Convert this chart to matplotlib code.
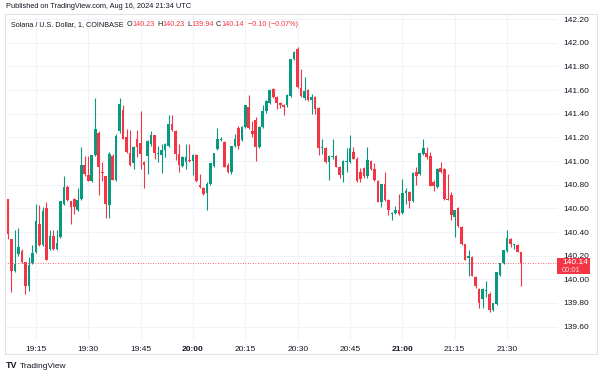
import numpy as np
import matplotlib.pyplot as plt
from matplotlib.patches import Rectangle

# SOL/USD 1-minute candles, 19:07 -> 21:34 (UTC)
opens = [140.68, 140.34, 140.07, 140.21, 140.24, 140.15, 139.94, 140.14, 140.23, 140.47,
         140.29, 140.60, 140.26, 140.37, 140.26, 140.36, 140.64, 140.78, 140.66, 140.68,
         140.59, 140.68, 140.97, 140.88, 140.83, 141.05, 141.24, 140.91, 140.87, 140.63,
         141.04, 140.84, 141.25, 141.43, 141.20, 141.07, 140.98, 141.19, 141.15, 140.99,
         141.04, 141.14, 141.22, 141.06, 141.05, 141.09, 141.13, 141.31, 141.25, 141.06,
         140.96, 140.99, 141.01, 141.00, 141.05, 140.80, 140.77, 140.73, 140.81, 140.96,
         141.10, 141.18, 141.16, 140.97, 140.91, 141.13, 141.28, 141.18, 141.29, 141.46,
         141.25, 141.35, 141.12, 141.29, 141.42, 141.49, 141.61, 141.54, 141.49, 141.47,
         141.47, 141.55, 141.86, 141.95, 141.62, 141.53, 141.60, 141.52, 141.54, 141.45,
         141.11, 141.11, 140.99, 141.03, 141.04, 140.95, 140.88, 140.99, 140.99, 141.08,
         141.02, 140.91, 140.94, 140.87, 141.00, 140.93, 140.83, 140.65, 140.81, 140.67,
         140.55, 140.56, 140.59, 140.56, 140.73, 140.74, 140.66, 140.91, 140.89, 141.06,
         141.07, 141.04, 140.82, 140.78, 140.94, 140.93, 140.68, 140.71, 140.53, 140.60,
         140.44, 140.30, 140.18, 140.19, 140.02, 139.92, 139.83, 139.90, 139.88, 139.74,
         139.79, 140.04, 140.14, 140.24, 140.34, 140.29, 140.29, 140.23]
highs = [140.68, 140.34, 140.42, 140.43, 140.26, 140.15, 140.19, 140.29, 140.64, 140.63,
         140.61, 140.65, 140.42, 140.42, 140.42, 140.66, 140.87, 140.80, 140.66, 140.69,
         140.77, 141.12, 141.04, 141.04, 141.05, 141.53, 141.25, 140.99, 140.87, 141.08,
         141.06, 141.23, 141.53, 141.47, 141.27, 141.26, 141.13, 141.26, 141.42, 141.00,
         141.18, 141.25, 141.22, 141.13, 141.14, 141.15, 141.39, 141.39, 141.26, 141.14,
         141.04, 141.14, 141.14, 141.06, 141.06, 140.89, 140.78, 140.82, 140.98, 141.07,
         141.28, 141.20, 141.17, 140.98, 141.13, 141.23, 141.30, 141.30, 141.47, 141.56,
         141.34, 141.37, 141.30, 141.47, 141.52, 141.61, 141.62, 141.55, 141.50, 141.48,
         141.57, 141.86, 141.93, 141.96, 141.78, 141.71, 141.61, 141.57, 141.55, 141.46,
         141.19, 141.12, 141.05, 141.19, 141.05, 140.96, 141.01, 141.11, 141.22, 141.12,
         141.03, 140.94, 140.95, 141.12, 141.01, 140.98, 140.84, 140.81, 140.91, 140.68,
         140.57, 140.62, 140.72, 140.85, 140.77, 140.75, 140.91, 140.95, 141.07, 141.19,
         141.12, 141.08, 140.84, 140.94, 140.99, 140.94, 140.89, 140.74, 140.59, 140.61,
         140.45, 140.30, 140.25, 140.20, 140.03, 139.93, 139.93, 139.99, 139.89, 139.80,
         140.06, 140.14, 140.25, 140.42, 140.35, 140.30, 140.30, 140.23]
lows = [140.34, 139.89, 140.06, 140.20, 140.14, 139.88, 139.90, 140.13, 140.22, 140.28,
        140.28, 140.16, 140.25, 140.25, 140.25, 140.35, 140.63, 140.66, 140.47, 140.55,
        140.58, 140.67, 140.87, 140.83, 140.82, 141.04, 140.71, 140.83, 140.52, 140.52,
        140.84, 140.83, 141.24, 141.19, 141.07, 140.96, 140.93, 141.03, 140.93, 140.77,
        140.89, 141.13, 141.02, 140.99, 140.90, 141.03, 141.12, 141.25, 141.01, 140.91,
        140.95, 140.93, 140.99, 140.88, 140.82, 140.77, 140.71, 140.59, 140.80, 140.95,
        141.09, 141.17, 140.95, 140.90, 140.89, 141.12, 141.10, 141.17, 141.28, 141.27,
        141.20, 141.00, 141.11, 141.28, 141.41, 141.48, 141.53, 141.44, 141.45, 141.39,
        141.46, 141.54, 141.85, 141.62, 141.54, 141.52, 141.51, 141.40, 141.40, 141.05,
        141.06, 140.98, 140.84, 141.02, 140.95, 140.86, 140.82, 140.91, 140.98, 141.02,
        140.82, 140.82, 140.86, 140.86, 140.92, 140.83, 140.65, 140.61, 140.66, 140.54,
        140.50, 140.55, 140.54, 140.55, 140.64, 140.60, 140.65, 140.80, 140.88, 141.05,
        141.02, 140.79, 140.75, 140.77, 140.90, 140.67, 140.67, 140.50, 140.36, 140.44,
        140.29, 140.16, 140.03, 140.03, 139.93, 139.76, 139.76, 139.85, 139.72, 139.73,
        139.78, 140.03, 140.13, 140.23, 140.27, 140.26, 140.23, 139.94]
closes = [140.38, 140.07, 140.13, 140.27, 140.15, 139.94, 140.12, 140.22, 140.49, 140.29,
          140.58, 140.16, 140.37, 140.26, 140.31, 140.66, 140.78, 140.67, 140.61, 140.61,
          140.67, 140.97, 140.89, 140.83, 141.05, 141.27, 140.95, 140.90, 140.64, 141.06,
          140.84, 141.21, 141.48, 141.19, 141.08, 140.97, 141.12, 141.12, 141.06, 140.97,
          141.17, 141.22, 141.07, 141.06, 141.09, 141.14, 141.31, 141.26, 141.06, 140.97,
          141.03, 141.03, 141.00, 141.05, 140.83, 140.78, 140.72, 140.81, 140.98, 141.07,
          141.19, 141.19, 140.95, 140.91, 141.13, 141.19, 141.13, 141.29, 141.47, 141.28,
          141.23, 141.12, 141.29, 141.42, 141.51, 141.60, 141.54, 141.49, 141.47, 141.46,
          141.56, 141.86, 141.92, 141.63, 141.55, 141.59, 141.52, 141.54, 141.44, 141.11,
          141.12, 140.99, 141.04, 141.04, 140.95, 140.88, 141.00, 141.00, 141.11, 141.02,
          140.83, 140.85, 140.87, 141.01, 140.93, 140.84, 140.65, 140.81, 140.67, 140.59,
          140.56, 140.59, 140.55, 140.73, 140.75, 140.66, 140.90, 140.87, 141.07, 141.11,
          141.03, 140.79, 140.79, 140.93, 140.91, 140.68, 140.67, 140.54, 140.59, 140.45,
          140.30, 140.16, 140.20, 140.03, 139.94, 139.80, 139.92, 139.91, 139.74, 139.80,
          140.06, 140.14, 140.25, 140.35, 140.30, 140.29, 140.23, 140.14]

time_labels = ["19:15", "19:30", "19:45", "20:00", "20:15", "20:30", "20:45", "21:00", "21:15", "21:30"]
time_label_idx = [8, 23, 38, 53, 68, 83, 98, 113, 128, 143]
price_ticks = [139.60, 139.80, 140.00, 140.20, 140.40, 140.60, 140.80,
               141.00, 141.20, 141.40, 141.60, 141.80, 142.00, 142.20]
last_price = 140.14

UP = "#089981"
DOWN = "#F23645"
TXT = "#131722"
GRID = "#f0f3fa"

plt.rcParams['font.family'] = ['Liberation Sans', 'DejaVu Sans']

W, H = 600, 376
fig = plt.figure(figsize=(6, 3.76), dpi=100)
fig.patch.set_facecolor("white")

def fx(px):
    return px / W

def fy(py):
    return 1 - py / H

ax = fig.add_axes([fx(5), fy(340), fx(558) - fx(5), fy(14) - fy(340)])

o = np.array(opens)
hi = np.array(highs)
lo = np.array(lows)
c = np.array(closes)
idx = np.arange(len(o))
up = c >= o
col = np.where(up, UP, DOWN)

ax.vlines(idx, lo, hi, colors=col, linewidth=0.8, zorder=2)
body_lo = np.minimum(o, c)
body_h = np.maximum(np.abs(c - o), 0.006)
ax.bar(idx, body_h, bottom=body_lo, width=0.75, color=col, linewidth=0, zorder=3)

ax.axhline(last_price, color=DOWN, linewidth=0.6, linestyle=(0, (1, 2)), zorder=1)

ax.set_xlim(-0.86, 157.6)
ax.set_ylim(139.487, 142.243)

ax.set_xticks(time_label_idx)
ax.set_xticklabels(time_labels)
for lab in ax.get_xticklabels():
    lab.set_fontsize(6)
    lab.set_color(TXT)
    if lab.get_text().endswith(":00"):
        lab.set_fontweight("bold")
ax.tick_params(axis="x", length=0, pad=4.5)

ax.yaxis.tick_right()
ax.set_yticks(price_ticks)
ax.set_yticklabels([f"{p:.2f}" for p in price_ticks])
ax.tick_params(axis="y", length=0, pad=4, labelsize=6, labelcolor=TXT)
ax.grid(True, color=GRID, linewidth=0.8, zorder=0)
ax.set_axisbelow(True)
for s in ax.spines.values():
    s.set_visible(False)

# outer frame
fig.patches.append(Rectangle((fx(5), fy(354)), fx(597) - fx(5), fy(14) - fy(354),
                             transform=fig.transFigure, fill=False,
                             edgecolor="#e0e3eb", linewidth=0.8))

# last price tag
fig.patches.append(Rectangle((fx(557), fy(274)), fx(590) - fx(557), fy(258) - fy(274),
                             transform=fig.transFigure, facecolor=DOWN,
                             edgecolor="none", zorder=5))
fig.text(fx(562), fy(262.5), "140.14", color="white", fontsize=6, va="center", zorder=6)
fig.text(fx(562), fy(270), "00:01", color="#ffd6da", fontsize=5.5, va="center", zorder=6)

# header
fig.text(fx(6), fy(6.5), "Published on TradingView.com, Aug 16, 2024 21:34 UTC",
         fontsize=5.3, color=TXT, va="center")

renderer = fig.canvas.get_renderer()
pieces = [("Solana / U.S. Dollar, 1, COINBASE", TXT, 3),
          ("O", TXT, 0), ("140.23", DOWN, 2.5),
          ("H", TXT, 0), ("140.23", DOWN, 2.5),
          ("L", TXT, 0), ("139.94", DOWN, 2.5),
          ("C", TXT, 0), ("140.14", DOWN, 4),
          ("\u22120.10 (\u22120.07%)", DOWN, 0)]
x = 11
for txt, color, gap in pieces:
    t = fig.text(fx(x), fy(25), txt, fontsize=5.2, color=color, va="center")
    x += t.get_window_extent(renderer).width + gap

# footer logo
fig.text(fx(6), fy(366), "TV", fontsize=6.5, fontweight="bold", color=TXT, va="center")
fig.text(fx(20), fy(366), "TradingView", fontsize=6, color=TXT, va="center")

fig.savefig("out.png", dpi=100)
